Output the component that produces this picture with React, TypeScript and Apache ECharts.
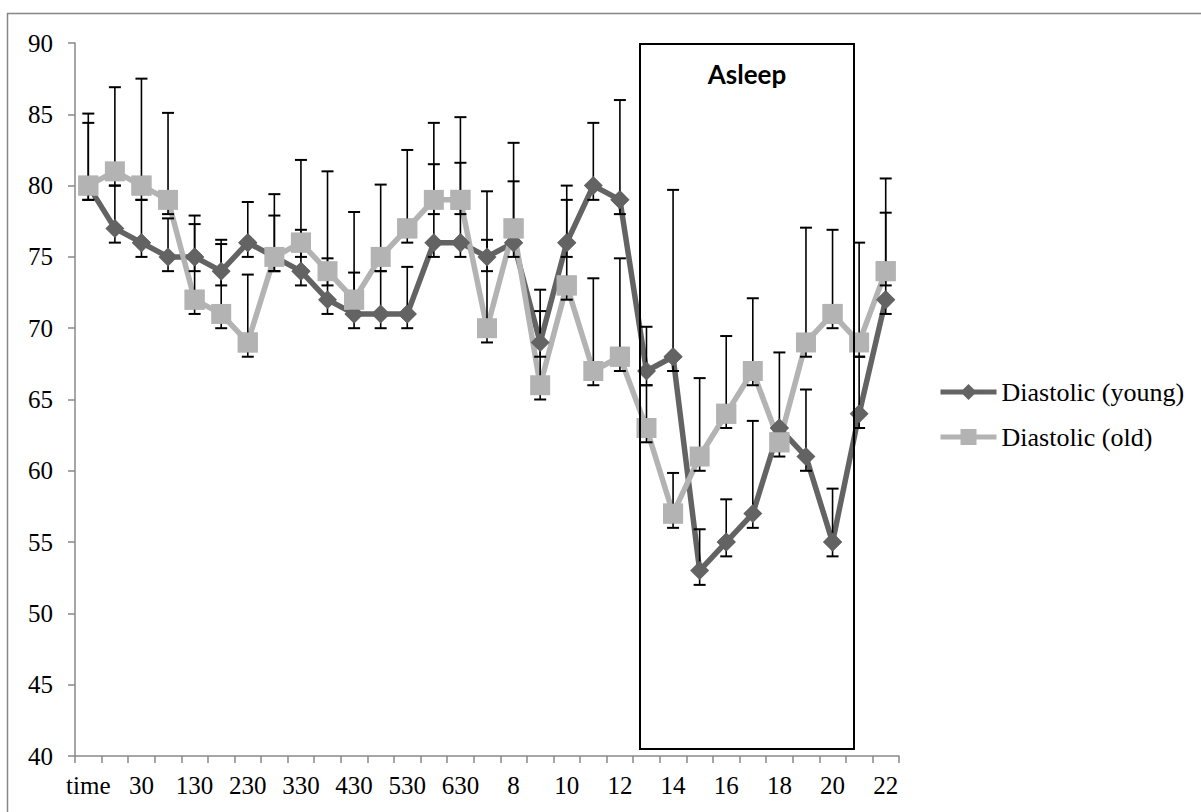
import React, { useEffect, useRef } from "react";
import * as echarts from "echarts";

const categories = [
  "time", "0", "30", "100", "130", "200", "230", "300", "330", "400", "430",
  "500", "530", "600", "630", "7", "8", "9", "10", "11", "12", "13", "14",
  "15", "16", "17", "18", "19", "20", "21", "22",
];

const youngValues = [
  80, 77, 76, 75, 75, 74, 76, 75, 74, 72, 71, 71, 71, 76, 76, 75, 76, 69, 76,
  80, 79, 67, 68, 53, 55, 57, 63, 61, 55, 64, 72,
];
const youngUpper = [
  84.4, 80.0, 79.0, 77.7, 77.9, 75.9, 78.85, 77.9, 76.9, 74.9, 73.9, 74.0,
  74.3, 81.5, 81.6, 79.6, 80.3, 72.7, 80.0, 84.4, 86.0, 70.1, 79.7, 55.9,
  58.0, 63.5, 68.3, 65.7, 58.75, 68.0, 78.1,
];
const youngLower = [
  79, 76, 75, 74, 74, 73, 75, 74, 73, 71, 70, 70, 70, 75, 75, 74, 75, 68, 75,
  79, 78, 66, 67, 52, 54, 56, 62, 60, 54, 63, 71,
];

const oldValues = [
  80, 81, 80, 79, 72, 71, 69, 75, 76, 74, 72, 75, 77, 79, 79, 70, 77, 66, 73,
  67, 68, 63, 57, 61, 64, 67, 62, 69, 71, 69, 74,
];
const oldUpper = [
  85.05, 86.9, 87.5, 85.1, 77.3, 76.2, 73.76, 79.4, 81.8, 81.0, 78.15, 80.07,
  82.5, 84.4, 84.8, 76.2, 83.0, 71.2, 79.0, 73.5, 74.9, 66.0, 59.85, 66.5,
  69.45, 72.1, 62.6, 77.05, 76.9, 76.0, 80.5,
];
const oldLower = [
  79, 80, 79, 78, 71, 70, 68, 74, 75, 73, 71, 74, 76, 78, 78, 69, 76, 65, 72,
  66, 67, 62, 56, 60, 63, 66, 61, 68, 70, 68, 73,
];

const yMin = 40;
const yMax = 90;
const yStep = 5;

const seriesNames = ["Diastolic (young)", "Diastolic (old)"];
const asleepLabel = "Asleep";

const YOUNG_COLOR = "#636363";
const OLD_COLOR = "#b3b3b3";
const AXIS_COLOR = "#898989";
const SERIF = "'Liberation Serif', 'Times New Roman', serif";

export default function App() {
  const ref = useRef<HTMLDivElement>(null);

  useEffect(() => {
    if (!ref.current) return;
    const chart = echarts.init(ref.current, null, { renderer: "svg" });

    const errData = (lo: number[], hi: number[]) =>
      categories.map((_, i) => [i, lo[i], hi[i]]);

    const renderErr = (_params: any, api: any) => {
      const x = api.value(0);
      const lo = api.coord([x, api.value(1)]);
      const hi = api.coord([x, api.value(2)]);
      const hw = 6;
      const style = { stroke: "#000", lineWidth: 1.6 };
      return {
        type: "group",
        children: [
          { type: "line", shape: { x1: lo[0], y1: lo[1], x2: hi[0], y2: hi[1] }, style },
          { type: "line", shape: { x1: hi[0] - hw, y1: hi[1], x2: hi[0] + hw, y2: hi[1] }, style: { ...style, lineWidth: 2 } },
          { type: "line", shape: { x1: lo[0] - hw, y1: lo[1], x2: lo[0] + hw, y2: lo[1] }, style: { ...style, lineWidth: 2 } },
        ],
      };
    };

    chart.setOption({
      animation: false,
      backgroundColor: "#fff",
      grid: { left: 75, top: 43, width: 824, height: 713, containLabel: false },
      legend: {
        data: seriesNames,
        orient: "vertical",
        left: 933,
        top: 374,
        itemWidth: 56,
        itemHeight: 20,
        itemGap: 19,
        lineStyle: { width: 5 },
        textStyle: { fontFamily: SERIF, fontSize: 26, color: "#000" },
      },
      xAxis: {
        type: "category",
        data: categories,
        boundaryGap: true,
        axisLine: { lineStyle: { color: AXIS_COLOR, width: 1.5 } },
        axisTick: { show: true, length: 7, lineStyle: { color: AXIS_COLOR, width: 1.5 }, interval: 0 },
        axisLabel: {
          interval: 1,
          margin: 17,
          color: "#000",
          fontFamily: SERIF,
          fontSize: 25,
        },
        splitLine: { show: false },
      },
      yAxis: {
        type: "value",
        min: yMin,
        max: yMax,
        interval: yStep,
        axisLine: { show: true, lineStyle: { color: AXIS_COLOR, width: 1.5 } },
        axisTick: { show: true, length: 7, lineStyle: { color: AXIS_COLOR, width: 1.5 } },
        axisLabel: { margin: 22, color: "#000", fontFamily: SERIF, fontSize: 25 },
        splitLine: { show: false },
      },
      series: [
        {
          name: seriesNames[0],
          type: "line",
          data: youngValues,
          z: 2,
          symbol: "diamond",
          symbolSize: 19,
          lineStyle: { color: YOUNG_COLOR, width: 5.5 },
          itemStyle: { color: YOUNG_COLOR },
        },
        {
          name: seriesNames[1],
          type: "line",
          data: oldValues,
          z: 2,
          symbol: "rect",
          symbolSize: 20,
          lineStyle: { color: OLD_COLOR, width: 5.5 },
          itemStyle: { color: OLD_COLOR },
        },
        {
          name: "errYoung",
          type: "custom",
          renderItem: renderErr,
          data: errData(youngLower, youngUpper),
          z: 3,
          silent: true,
        },
        {
          name: "errOld",
          type: "custom",
          renderItem: renderErr,
          data: errData(oldLower, oldUpper),
          z: 3,
          silent: true,
        },
        {
          name: "markYoung",
          type: "scatter",
          data: youngValues,
          symbol: "diamond",
          symbolSize: 19,
          itemStyle: { color: YOUNG_COLOR, opacity: 1 },
          z: 4,
          silent: true,
        },
        {
          name: "markOld",
          type: "scatter",
          data: oldValues,
          symbol: "rect",
          symbolSize: 20,
          itemStyle: { color: OLD_COLOR, opacity: 1 },
          z: 5,
          silent: true,
        },
      ],
      graphic: [
        {
          type: "rect",
          silent: true,
          z: 100,
          shape: { x: 7.5, y: 13.5, width: 1210, height: 820 },
          style: { fill: "none", stroke: "#868686", lineWidth: 1.5 },
        },
        {
          type: "rect",
          silent: true,
          z: 100,
          shape: { x: 640, y: 44, width: 214, height: 705 },
          style: { fill: "none", stroke: "#000", lineWidth: 2 },
        },
        {
          type: "text",
          silent: true,
          z: 101,
          x: 747,
          y: 74,
          style: {
            text: asleepLabel,
            fontFamily: "Lato, 'Open Sans', sans-serif",
            fontWeight: "bold",
            fontSize: 26,
            fill: "#000",
            align: "center",
            verticalAlign: "middle",
          },
        },
      ],
    });

    return () => chart.dispose();
  }, []);

  return (
    <div
      ref={ref}
      style={{ position: "absolute", left: 0, top: 0, width: 1201, height: 812 }}
    />
  );
}
